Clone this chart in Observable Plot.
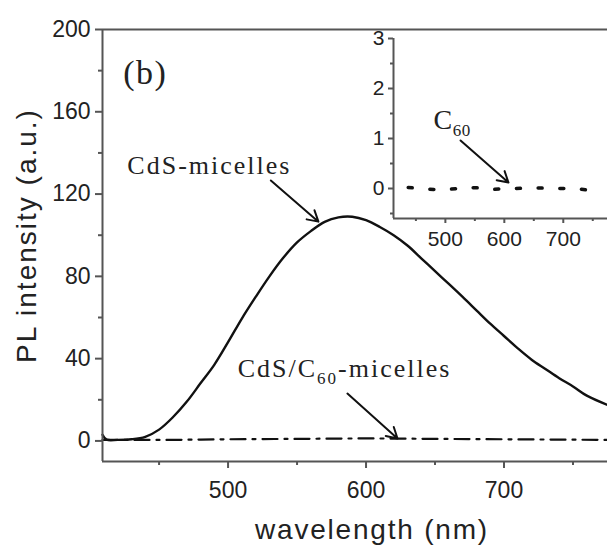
<!DOCTYPE html>
<html>
<head>
<meta charset="utf-8">
<script src="https://cdn.jsdelivr.net/npm/d3@7"></script>
<script src="https://cdn.jsdelivr.net/npm/@observablehq/plot@0.6"></script>
<style>
  body { margin: 0; background: #fff; }
  #chart { position: relative; width: 607px; height: 545px; overflow: hidden; background: #fff; }
  #inset { position: absolute; left: 340px; top: 20px; }
</style>
</head>
<body>
<div id="chart"><div id="inset"></div></div>
<script>
// PL spectrum of CdS micelles (solid line)
const wavelength = [409, 412, 420, 430, 440, 450, 460, 470, 480, 490, 500, 510, 520, 530, 540, 550, 560, 570, 580, 590, 600, 610, 620, 630, 640, 650, 660, 670, 680, 690, 700, 710, 720, 730, 740, 750, 760, 775];
const cdsMicelles = [3, 0.6, 0.5, 0.8, 2, 5.5, 11.5, 19, 28, 37, 48, 59.5, 70, 80, 89, 96.5, 102, 106.5, 108.7, 109, 107.3, 104, 100, 95, 88.8, 82.5, 76.3, 70, 63.5, 57, 51, 45, 39.5, 35, 30.5, 26.5, 22, 17.5];

// PL spectrum of CdS/C60 micelles (dash-dot line)
const hybridWavelength = [409, 450, 500, 550, 600, 650, 700, 775];
const cdsC60Micelles = [0.5, 0.5, 0.8, 1.0, 1.2, 1.0, 0.8, 0.5];

// PL spectrum of C60 alone (inset, dotted line)
const c60Wavelength = [437, 460, 480, 500, 520, 540, 560, 580, 600, 620, 640, 660, 680, 700, 720, 740, 760];
const c60 = [0.02, 0, -0.02, -0.02, 0, 0.02, 0.01, -0.02, 0, 0, 0.01, 0.01, 0, 0, 0, -0.03, -0.02];

// Axis ticks
const mainXTicks = [500, 600, 700];
const mainXMinor = [450, 550, 650, 750];
const mainYTicks = [0, 40, 80, 120, 160, 200];
const mainYMinor = [20, 60, 100, 140, 180];
const insetXTicks = [500, 600, 700];
const insetXMinor = [450, 550, 650, 750];
const insetYTicks = [0, 1, 2, 3];
const insetYMinor = [-0.5, 0.5, 1.5, 2.5];

// Annotations (anchored in data coordinates)
const panelTag = [{text: "(b)", w: 424, v: 173.7}];
const seriesLabels = [
  {text: "CdS-micelles", w: 427, v: 129.9},
  {text: "CdS/C₆₀-micelles", w: 507, v: 31}
];
const seriesArrows = [
  {w1: 531, v1: 126.6, w2: 565.5, v2: 106.6},
  {w1: 586.5, v1: 23, w2: 622.8, v2: 1.2}
];
const insetLabels = [{text: "C₆₀", w: 480, v: 1.2}];
const insetArrows = [{w1: 525.7, v1: 0.96, w2: 607, v2: 0.12}];

const axisColor = "#555";
const sans = "Liberation Sans, Arial, sans-serif";
const serif = "Liberation Serif, Times New Roman, serif";

const cdsData = wavelength.map((w, i) => ({w, v: cdsMicelles[i]}));
const hybridData = hybridWavelength.map((w, i) => ({w, v: cdsC60Micelles[i]}));
const c60Data = c60Wavelength.map((w, i) => ({w, v: c60[i]}));

const main = Plot.plot({
  width: 607,
  height: 545,
  marginTop: 29,
  marginRight: 0,
  marginBottom: 84,
  marginLeft: 102,
  x: {domain: [409, 775]},
  y: {domain: [-10, 200]},
  marks: [
    Plot.line(hybridData, {x: "w", y: "v", stroke: "#111", strokeWidth: 2.2, strokeDasharray: "15,7,3,7", curve: "monotone-x"}),
    Plot.line(cdsData, {x: "w", y: "v", stroke: "#111", strokeWidth: 2.4, curve: "catmull-rom"}),
    Plot.ruleX([409], {stroke: axisColor, strokeWidth: 2}),
    Plot.ruleY([-10], {stroke: axisColor, strokeWidth: 2}),
    Plot.ruleY([200], {stroke: axisColor, strokeWidth: 2}),
    Plot.axisX(mainXTicks, {tickSize: 7, tickPadding: 13, fontSize: 23, fontFamily: sans, stroke: axisColor, strokeWidth: 2, fill: "#222", label: null}),
    Plot.axisX(mainXMinor, {tickSize: 4, tickFormat: () => "", stroke: axisColor, strokeWidth: 2, label: null}),
    Plot.axisY(mainYTicks, {tickSize: 7, tickPadding: 5, fontSize: 23, fontFamily: sans, stroke: axisColor, strokeWidth: 2, fill: "#222", label: null}),
    Plot.axisY(mainYMinor, {tickSize: 4, tickFormat: () => "", stroke: axisColor, strokeWidth: 2, label: null}),
    Plot.text(["PL intensity (a.u.)"], {frameAnchor: "left", textAnchor: "middle", lineAnchor: "middle", rotate: -90, dx: -75, dy: -10, fontSize: 28, fontFamily: sans, fill: "#222"}),
    Plot.text(["wavelength (nm)"], {frameAnchor: "bottom", textAnchor: "middle", lineAnchor: "bottom", dx: 17, dy: 77, fontSize: 28, fontFamily: sans, fill: "#222"}),
    Plot.text(panelTag, {x: "w", y: "v", text: "text", textAnchor: "start", lineAnchor: "bottom", fontSize: 34, fontFamily: serif, fill: "#222"}),
    Plot.text(seriesLabels, {x: "w", y: "v", text: "text", textAnchor: "start", lineAnchor: "bottom", fontSize: 26, fontFamily: serif, fill: "#222"}),
    Plot.arrow(seriesArrows, {x1: "w1", y1: "v1", x2: "w2", y2: "v2", stroke: "#111", strokeWidth: 2, headLength: 9})
  ]
});

const inset = Plot.plot({
  width: 267,
  height: 250,
  marginTop: 18,
  marginRight: 0,
  marginBottom: 52,
  marginLeft: 53,
  style: {background: "transparent"},
  x: {domain: [412, 775]},
  y: {domain: [-0.6, 3]},
  marks: [
    Plot.line(c60Data, {x: "w", y: "v", stroke: "#111", strokeWidth: 3.5, strokeDasharray: "4,17.7"}),
    Plot.ruleX([412], {stroke: axisColor, strokeWidth: 2}),
    Plot.ruleY([-0.6], {stroke: axisColor, strokeWidth: 2}),
    Plot.axisX(insetXTicks, {tickSize: 5, tickPadding: 8, fontSize: 21, fontFamily: sans, stroke: axisColor, strokeWidth: 2, fill: "#222", label: null}),
    Plot.axisX(insetXMinor, {tickSize: 3, tickFormat: () => "", stroke: axisColor, strokeWidth: 2, label: null}),
    Plot.axisY(insetYTicks, {tickSize: 5, tickPadding: 4, tickFormat: d => String(d), fontSize: 21, fontFamily: sans, stroke: axisColor, strokeWidth: 2, fill: "#222", label: null}),
    Plot.axisY(insetYMinor, {tickSize: 3, tickFormat: () => "", stroke: axisColor, strokeWidth: 2, label: null}),
    Plot.text(insetLabels, {x: "w", y: "v", text: "text", textAnchor: "start", lineAnchor: "bottom", fontSize: 28, fontFamily: serif, fill: "#222"}),
    Plot.arrow(insetArrows, {x1: "w1", y1: "v1", x2: "w2", y2: "v2", stroke: "#111", strokeWidth: 2, headLength: 9})
  ]
});

const chart = document.getElementById("chart");
chart.insertBefore(main, chart.firstChild);
document.getElementById("inset").appendChild(inset);

// Letter spacing for the serif annotations and axis titles
const spacing = {"(b)": 1.5, "CdS-micelles": 2, "CdS/C₆₀-micelles": 2, "C₆₀": 0.5, "PL intensity (a.u.)": 2, "wavelength (nm)": 1.8};
for (const svg of [main, inset]) {
  d3.select(svg).selectAll("text").each(function () {
    const s = this.textContent;
    if (spacing[s] !== undefined) this.style.letterSpacing = spacing[s] + "px";
    // render "₆₀" as a true subscript
    if (s.includes("₆₀")) {
      const [before, after] = s.split("₆₀");
      const t = d3.select(this);
      t.text(null);
      t.append("tspan").text(before);
      t.append("tspan").attr("font-size", 17).attr("dy", 7).text("60");
      if (after) t.append("tspan").attr("dy", -7).text(after);
    }
  });
}
</script>
</body>
</html>
